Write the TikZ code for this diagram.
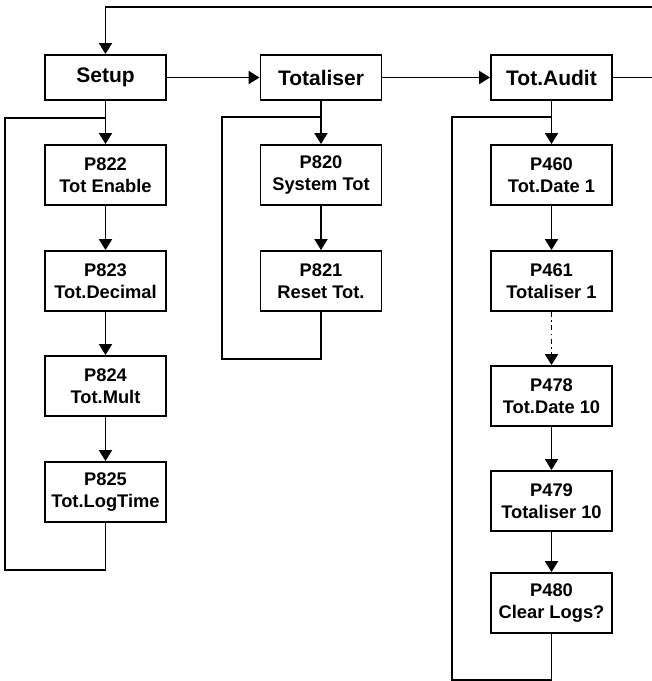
\documentclass[tikz,border=0pt]{standalone}
\usepackage{fontspec}
\setmainfont{Liberation Sans}
\usetikzlibrary{arrows.meta}
\tikzset{
    menu/.style={draw, minimum width=121pt, minimum height=45pt, inner sep=0pt,
      align=center, font=\bfseries\fontsize{21}{24}\selectfont},
    param/.style={menu, minimum height=60pt, font=\bfseries\fontsize{18.3}{21.5}\selectfont},
    fleche/.style={-{Triangle[width=13pt,length=11pt]}},
  }
\begin{document}
\begin{tikzpicture}[x=1pt,y=-1pt,line width=1.9pt]
			          %cadre de l'image
				  \useasboundingbox (0,0) rectangle (652,681);
				  %menus
				  \node[menu](setup) at (105.5,77.5){Setup};
				  \node[menu](tot) at (321,77.5){Totaliser};
				  \node[menu](audit) at (551.5,77.5){Tot.Audit};
				  %parametres
				  \node[param](P822) at (105.5,175){P822\\Tot Enable};
				  \node[param](P823) at (105.5,281){P823\\Tot.Decimal};
				  \node[param](P824) at (105.5,386){P824\\Tot.Mult};
				  \node[param](P825) at (105.5,492){P825\\Tot.LogTime};
				  \node[param](P820) at (321,175){P820\\System Tot};
				  \node[param](P821) at (321,281){P821\\Reset Tot.};
				  \node[param](P460) at (551.5,175){P460\\Tot.Date 1};
				  \node[param](P461) at (551.5,281){P461\\Totaliser 1};
				  \node[param](P478) at (551.5,396){P478\\Tot.Date 10};
				  \node[param](P479) at (551.5,501){P479\\Totaliser 10};
				  \node[param](P480) at (551.5,603){P480\\Clear Logs?};
				  %points de retour
				  \coordinate(Rh) at (652,7);
				  \coordinate(Rm) at (652,77.5);
				  \coordinate(JA) at (105.5,118);
				  \coordinate(JB) at (321,117);
				  \coordinate(JC) at (551.5,117);

				  \draw (audit) -- (Rm);
				  \draw[fleche] (Rh) -| (setup);
				  \draw[fleche] (setup) -- (tot);
				  \draw[fleche] (tot) -- (audit);
				  \draw[fleche] (setup) -- (P822);
				  \draw[fleche] (P822) -- (P823);
				  \draw[fleche] (P823) -- (P824);
				  \draw[fleche] (P824) -- (P825);
				  \draw[fleche] (tot) -- (P820);
				  \draw[fleche] (P820) -- (P821);
				  \draw[fleche] (audit) -- (P460);
				  \draw[fleche] (P460) -- (P461);
				  \draw[fleche, dash pattern=on 5pt off 3.5pt on 1.5pt off 3.5pt] (P461) -- (P478);
				  \draw[fleche] (P478) -- (P479);
				  \draw[fleche] (P479) -- (P480);
				  %boucles
				  \draw (P825) |- (5,570) -- (5,118) -- (JA);
				  \draw (P821) |- (222,359) -- (222,117) -- (JB);
				  \draw (P480) |- (452,680) -- (452,117) -- (JC);
				  \end{tikzpicture}
\end{document}
